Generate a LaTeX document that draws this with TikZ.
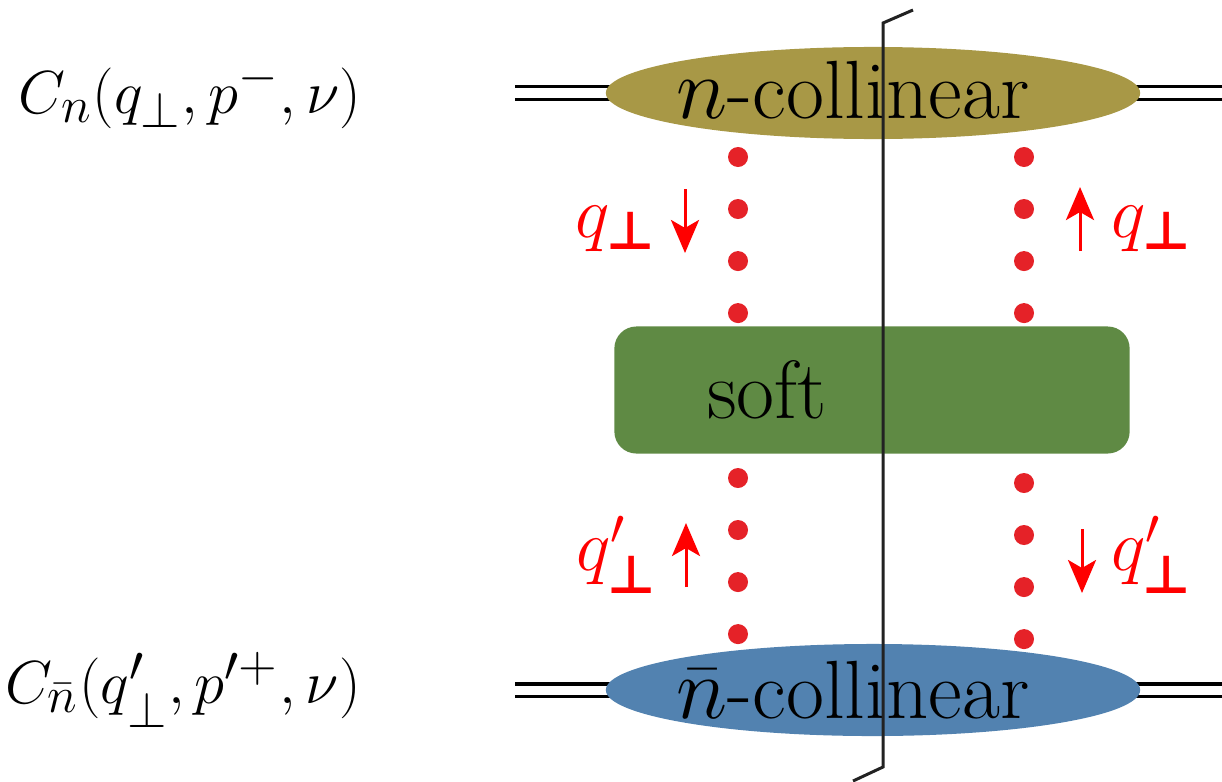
\documentclass[tikz,border=0pt]{standalone}
\usepackage{amsmath}
\usepackage{amssymb}
\usepackage{fontspec}
\usepackage{tikz}
\usetikzlibrary{positioning,shapes.geometric,arrows.meta,calc,backgrounds}
\newfontfamily\perpfont{DejaVu Sans}
\definecolor{olive}   {HTML}{A89846}
\definecolor{steel}   {HTML}{5282B0}
\definecolor{leaf}    {HTML}{5F8A44}
\definecolor{glue}    {HTML}{E52228}
\definecolor{cutink}  {HTML}{222222}
\newcommand{\bperp}{\text{\fontsize{15}{15}\perpfont\bfseries ⊥}}
\tikzset{
  % --- nodes
  blob/.style  = {ellipse, inner sep=0pt, minimum width=5.34cm, minimum height=0.92cm},
  ncol/.style  = {blob, fill=olive},
  nbcol/.style = {blob, fill=steel},
  softbox/.style = {rectangle, rounded corners=0.22cm, fill=leaf, minimum width=5.15cm,
                  minimum height=1.27cm},
  big/.style   = {font=\fontsize{23.5}{26}\selectfont},
  fn/.style    = {font=\fontsize{19}{22}\selectfont},
  mlbl/.style  = {text=red, font=\fontsize{22}{24}\selectfont},
  % --- edges
  dline/.style = {double, double distance=0.09cm, line width=0.035cm},
  gdots/.style = {draw=glue, line width=0.2cm, line cap=round, dash pattern=on 0pt off 0.52cm},
  mom/.style   = {-{Stealth[length=0.33cm, width=0.28cm, inset=0.08cm]}, red, line width=0.03cm},
  cut/.style   = {draw=cutink, line width=0.03cm},
}
\begin{document}
\begin{tikzpicture}[x=0.01cm,y=0.01cm]
  \useasboundingbox (0,0) rectangle (1222,781);

  \node[ncol]  (nc)  at (873,688) {};
  \node[nbcol] (nbc) at (873,91)  {};
  \node[softbox] (soft) at (872,391) {};
  \node[big] (nclbl)   at ([xshift=-0.2cm,yshift=0.03cm]nc.center)  {$n$-collinear};
  \node[big] (nbclbl)  at ([xshift=-0.2cm]nbc.center) {$\bar{n}$-collinear};
  \node[big] (softlbl) at ([xshift=-1.05cm]soft.center) {soft};

  % external legs
  \begin{scope}[on background layer]
    \coordinate (ninl)  at (515,688); \coordinate (noutr)  at (1222,688);
    \coordinate (nbinl) at (515,91);  \coordinate (nboutr) at (1222,91);
    \draw[dline] (ninl) -- (nc.center) -- (noutr);
    \draw[dline] (nbinl) -- (nbc.center) -- (nboutr);
  \end{scope}

  % soft exchanges
  \coordinate (lt) at (738,624); \coordinate (lb) at (738,466);
  \coordinate (rt) at (1024,624); \coordinate (rb) at (1024,466);
  \coordinate (lt2) at (738,303); \coordinate (lb2) at (738,145);
  \coordinate (rt2) at (1024,298); \coordinate (rb2) at (1024,140);
  \draw[gdots] (lt) -- (lb);  \draw[gdots] (rt) -- (rb);
  \draw[gdots] (lt2) -- (lb2); \draw[gdots] (rt2) -- (rb2);

  % momentum labels
  \node[mlbl] (q1) at (616,552) {$q_{\bperp}$};
  \node[mlbl] (q2) at (1152,552) {$q_{\bperp}$};
  \node[mlbl] (q3) at (617,226) {$q'_{\bperp}$};
  \node[mlbl] (q4) at (1152,226) {$q'_{\bperp}$};
  \coordinate (a1t) at (685,592); \coordinate (a1b) at (685,528);
  \coordinate (a2t) at (1080,594); \coordinate (a2b) at (1080,530);
  \coordinate (a3t) at (686,258); \coordinate (a3b) at (686,194);
  \coordinate (a4t) at (1082,252); \coordinate (a4b) at (1082,188);
  \draw[mom] (a1t) -- (a1b); \draw[mom] (a2b) -- (a2t);
  \draw[mom] (a3b) -- (a3t); \draw[mom] (a4t) -- (a4b);

  % functions
  \node[fn] (cn)  at (190,686) {$C_n(q_\perp,p^-,\nu)$};
  \node[fn] (cnb) at (183,91)  {$C_{\bar n}(q'_\perp,p'^+,\nu)$};

  % cut
  \coordinate (cuta) at (913,771); \coordinate (cutb) at (883,758);
  \coordinate (cutc) at (883,14);  \coordinate (cutd) at (853,0);
  \draw[cut] (cuta) -- (cutb) -- (cutc) -- (cutd);
\end{tikzpicture}
\end{document}
